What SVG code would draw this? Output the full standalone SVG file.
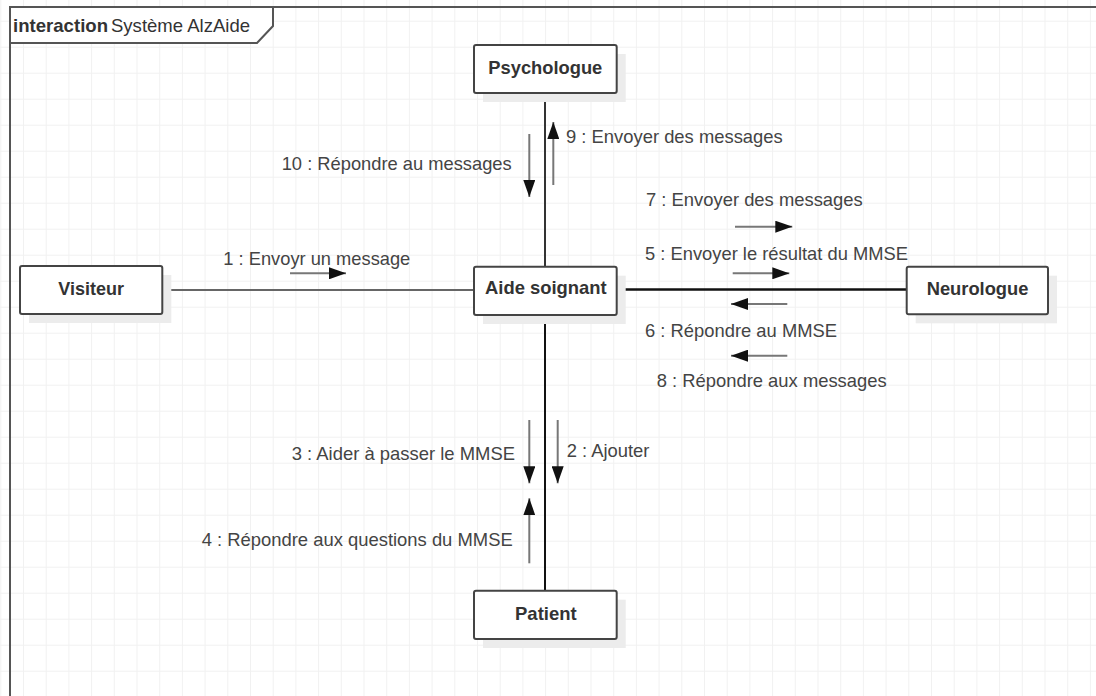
<svg xmlns="http://www.w3.org/2000/svg" width="1096" height="696" viewBox="0 0 1096 696">
<style>
.box{fill:#fff;stroke:#444;stroke-width:2}
.shadow{fill:#ececec;stroke:none}
.nt{font-family:"Liberation Sans",Arial,sans-serif;font-weight:bold;font-size:19px;fill:#333}
.lbl{font-family:"Liberation Sans",Arial,sans-serif;font-size:19px;fill:#444}
.msg{stroke:#777;stroke-width:2;fill:none;marker-end:url(#ah)}
</style>
<defs>
<pattern id="grid" x="0.3" y="-5.3" width="22.7" height="26" patternUnits="userSpaceOnUse">
<path d="M0,0 V26 M0,0 H22.7" stroke="#f1f1f1" stroke-width="2" fill="none"/>
</pattern>
<marker id="ah" viewBox="0 0 17 12" markerWidth="17" markerHeight="12" refX="17" refY="6" orient="auto" markerUnits="userSpaceOnUse">
<path d="M0,0 L17,6 L0,12 Z" fill="#111"/>
</marker>
</defs>
<rect x="0" y="0" width="1096" height="696" fill="#fff"/>
<rect x="0" y="0" width="1096" height="696" fill="url(#grid)"/>
<g id="frame">
<path d="M10,7 H1096 M10,7 V696" stroke="#555" stroke-width="2" fill="none"/>
<path d="M10,7 H273 V26 L257,43 H10 Z" fill="#fff" stroke="#555" stroke-width="2"/>
<text x="13" y="32" font-family="Liberation Sans,Arial,sans-serif" font-size="19" fill="#333"><tspan font-weight="bold" textLength="95" lengthAdjust="spacingAndGlyphs">interaction</tspan><tspan x="111" textLength="139" lengthAdjust="spacingAndGlyphs">Système AlzAide</tspan></text>
</g>
<g id="connectors">
<line x1="545" y1="93" x2="545" y2="267" stroke="#333" stroke-width="2"/>
<line x1="545" y1="315" x2="545" y2="591" stroke="#111" stroke-width="2"/>
<line x1="162" y1="290" x2="474" y2="290" stroke="#666" stroke-width="1.8"/>
<line x1="617" y1="289.5" x2="907" y2="289.5" stroke="#111" stroke-width="2.5"/>
</g>
<g id="messages">
<g id="m1"><line class="msg" x1="290" y1="273.3" x2="346" y2="273.3"/><text class="lbl" x="223.3" y="265" textLength="187" lengthAdjust="spacingAndGlyphs">1 : Envoyr un message</text></g>
<g id="m9"><line class="msg" x1="553.3" y1="185" x2="553.3" y2="122"/><text class="lbl" x="566" y="142.5" textLength="216.7" lengthAdjust="spacingAndGlyphs">9 : Envoyer des messages</text></g>
<g id="m10"><line class="msg" x1="529.3" y1="134" x2="529.3" y2="197"/><text class="lbl" x="281.7" y="170" textLength="230" lengthAdjust="spacingAndGlyphs">10 : Répondre au messages</text></g>
<g id="m7"><line class="msg" x1="735" y1="226.7" x2="792.3" y2="226.7"/><text class="lbl" x="646" y="206" textLength="216.7" lengthAdjust="spacingAndGlyphs">7 : Envoyer des messages</text></g>
<g id="m5"><line class="msg" x1="732.7" y1="273.3" x2="789.3" y2="273.3"/><text class="lbl" x="645" y="260" textLength="263" lengthAdjust="spacingAndGlyphs">5 : Envoyer le résultat du MMSE</text></g>
<g id="m6"><line class="msg" x1="787.3" y1="304" x2="731" y2="304"/><text class="lbl" x="645" y="336.7" textLength="192" lengthAdjust="spacingAndGlyphs">6 : Répondre au MMSE</text></g>
<g id="m8"><line class="msg" x1="787.3" y1="355.7" x2="731" y2="355.7"/><text class="lbl" x="656.7" y="386.7" textLength="230" lengthAdjust="spacingAndGlyphs">8 : Répondre aux messages</text></g>
<g id="m3"><line class="msg" x1="529.3" y1="420" x2="529.3" y2="483.3"/><text class="lbl" x="291.7" y="460" textLength="223.3" lengthAdjust="spacingAndGlyphs">3 : Aider à passer le MMSE</text></g>
<g id="m2"><line class="msg" x1="557.7" y1="420" x2="557.7" y2="483.3"/><text class="lbl" x="566.7" y="456.7" textLength="82.7" lengthAdjust="spacingAndGlyphs">2 : Ajouter</text></g>
<g id="m4"><line class="msg" x1="529.3" y1="563.3" x2="529.3" y2="498.3"/><text class="lbl" x="201.7" y="545.7" textLength="311" lengthAdjust="spacingAndGlyphs">4 : Répondre aux questions du MMSE</text></g>
</g>
<g id="psychologue">
<rect class="shadow" x="483" y="54" width="142.7" height="48"/>
<rect class="box" x="474" y="45" width="142.7" height="48" rx="2"/>
<text class="nt" x="488.3" y="74" textLength="114" lengthAdjust="spacingAndGlyphs">Psychologue</text>
</g>
<g id="aide-soignant">
<rect class="shadow" x="483" y="275.7" width="142.7" height="48.3"/>
<rect class="box" x="474" y="266.7" width="142.7" height="48.3" rx="2"/>
<text class="nt" x="485" y="294" textLength="121.7" lengthAdjust="spacingAndGlyphs">Aide soignant</text>
</g>
<g id="visiteur">
<rect class="shadow" x="29" y="275" width="142.3" height="48"/>
<rect class="box" x="20" y="266" width="142.3" height="48" rx="2"/>
<text class="nt" x="58.3" y="294.5" textLength="65.7" lengthAdjust="spacingAndGlyphs">Visiteur</text>
</g>
<g id="neurologue">
<rect class="shadow" x="915.7" y="275.7" width="141.3" height="47.6"/>
<rect class="box" x="906.7" y="266.7" width="141.3" height="47.6" rx="2"/>
<text class="nt" x="926.7" y="294.5" textLength="101.7" lengthAdjust="spacingAndGlyphs">Neurologue</text>
</g>
<g id="patient">
<rect class="shadow" x="483" y="599.7" width="142.7" height="48.3"/>
<rect class="box" x="474" y="590.7" width="142.7" height="48.3" rx="2"/>
<text class="nt" x="515" y="619.5" textLength="61.7" lengthAdjust="spacingAndGlyphs">Patient</text>
</g>
</svg>
